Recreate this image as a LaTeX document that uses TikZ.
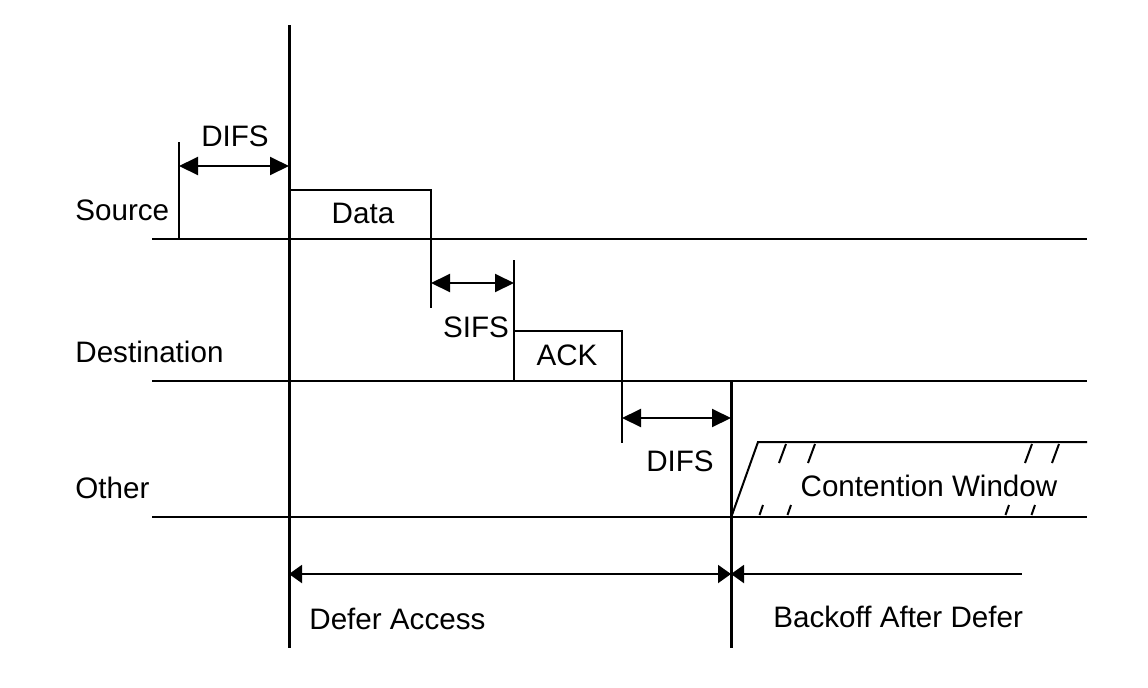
\documentclass[tikz,border=0pt]{standalone}
\usepackage{fontspec}
\setmainfont{Liberation Sans}
\usetikzlibrary{arrows.meta}
\begin{document}
\begin{tikzpicture}[x=0.5pt,y=-0.5pt,
  ln/.style={line width=1pt},
  bar/.style={line width=1.5pt},
  dimarrow/.style={line width=1pt,{Triangle[length=9.5pt,width=9pt]}-{Triangle[length=9.5pt,width=9pt]}},
  lowarrow/.style={line width=1pt,{Triangle[length=6.5pt,width=9pt]}-{Triangle[length=6.5pt,width=9pt]}},
  lowleft/.style={line width=1pt,{Triangle[length=6.5pt,width=9pt]}-},
  lbl/.style={font=\fontsize{14.8}{17}\selectfont, inner sep=0pt}
]
\useasboundingbox (0,0) rectangle (1148,687);
% coordinates
\coordinate (barAtop) at (289,25);
\coordinate (barAbot) at (289,648);
\coordinate (barBtop) at (731,381);
\coordinate (barBbot) at (731,648);
\coordinate (srcL) at (152,239);
\coordinate (srcR) at (1087,239);
\coordinate (dstL) at (152,381);
\coordinate (dstR) at (1087,381);
\coordinate (othL) at (152,517);
\coordinate (othR) at (1087,517);
% lines
\draw[bar] (barAtop) -- (barAbot);
\draw[bar] (barBtop) -- (barBbot);
\draw[ln] (srcL) -- (srcR);
\draw[ln] (dstL) -- (dstR);
\draw[ln] (othL) -- (othR);
% DIFS (source)
\coordinate (d1top) at (179,142);
\coordinate (d1bot) at (179,239);
\coordinate (d1a) at (179,166);
\coordinate (d1b) at (289,166);
\draw[ln] (d1top) -- (d1bot);
\draw[dimarrow] (d1a) -- (d1b);
\node[lbl,anchor=base] (difs1) at (235,146) {DIFS};
% Data box
\coordinate (dataTL) at (289,190);
\coordinate (dataTR) at (431,190);
\coordinate (dataRB) at (431,308);
\draw[ln] (dataTL) -- (dataTR) -- (dataRB);
\node[lbl,anchor=base] (data) at (363,223) {Data};
% SIFS
\coordinate (s1) at (431,283);
\coordinate (s2) at (514,283);
\coordinate (sTop) at (514,260);
\coordinate (ackTL) at (514,331);
\coordinate (ackBL) at (514,381);
\draw[dimarrow] (s1) -- (s2);
\draw[ln] (sTop) -- (ackBL);
\node[lbl,anchor=base] (sifs) at (476,337) {SIFS};
% ACK box
\coordinate (ackTR) at (622,331);
\coordinate (ackRB) at (622,443);
\draw[ln] (ackTL) -- (ackTR) -- (ackRB);
\node[lbl,anchor=base] (ack) at (567,365) {ACK};
% DIFS (other)
\coordinate (d2a) at (622,418);
\coordinate (d2b) at (731,418);
\draw[dimarrow] (d2a) -- (d2b);
\node[lbl,anchor=base] (difs2) at (680,471) {DIFS};
% Contention window
\coordinate (cwA) at (732,515);
\coordinate (cwB) at (758,442);
\coordinate (cwC) at (1087,442);
\draw[ln] (cwA) -- (cwB) -- (cwC);
\foreach \x in {786,815,1032,1059} \draw[ln] (\x,444) -- ++(-7,19);
\foreach \x in {763,791,1009,1035} \draw[ln] (\x,505) -- ++(-3.5,10);
\node[lbl,anchor=base] (cw) at (929,496) {Contention Window};
% labels left
\node[lbl,anchor=base west] (source) at (75,220) {Source};
\node[lbl,anchor=base west] (dest) at (75,362) {Destination};
\node[lbl,anchor=base west] (other) at (75,498) {Other};
% bottom arrows
\coordinate (defL) at (289,574);
\coordinate (defR) at (731,574);
\coordinate (bkR) at (1022,574);
\draw[lowarrow] (defL) -- (defR);
\draw[lowleft] (defR) -- (bkR);
\node[lbl,anchor=base west] (defer) at (309,629) {Defer Access};
\node[lbl,anchor=base west] (backoff) at (773,627) {Backoff After Defer};
\end{tikzpicture}
\end{document}
